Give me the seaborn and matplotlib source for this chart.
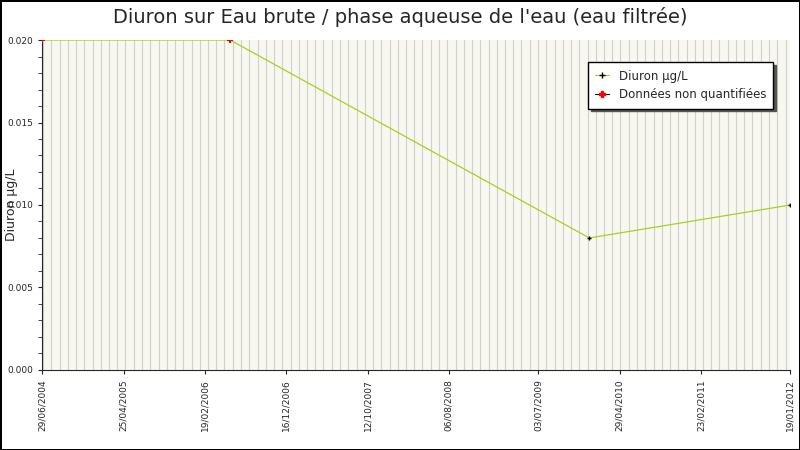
import matplotlib
matplotlib.use("Agg")
import matplotlib.pyplot as plt
import matplotlib.dates as mdates
from matplotlib.ticker import MultipleLocator
from matplotlib.lines import Line2D
import seaborn as sns
import pandas as pd

dates = ["2004-06-29", "2006-05-23", "2010-01-07", "2012-01-19"]
values = [0.020, 0.020, 0.008, 0.010]
quantified = [False, False, True, True]
tick_labels = ["29/06/2004", "25/04/2005", "19/02/2006", "16/12/2006", "12/10/2007",
               "06/08/2008", "03/07/2009", "29/04/2010", "23/02/2011", "19/01/2012"]

df = pd.DataFrame({"date": pd.to_datetime(dates), "val": values, "q": quantified})

sns.set_style("white")
plt.rcParams['font.family'] = ['DejaVu Sans']
fig = plt.figure(figsize=(8, 4.5), dpi=100)
fig.patch.set_edgecolor("black"); fig.patch.set_linewidth(2)
ax = fig.add_axes([0.053, 0.178, 0.935, 0.733])
ax.set_facecolor("#f8f8f0")

sns.lineplot(data=df, x="date", y="val", ax=ax, color="#a8d020", lw=0.9)
qd = df[df.q]; nq = df[~df.q]
ax.scatter(qd.date, qd.val, marker="+", s=10, color="black", zorder=5, lw=1)
ax.scatter(nq.date, nq.val, marker="P", s=25, color="red", zorder=5, lw=0)

ticks = pd.to_datetime(tick_labels, format="%d/%m/%Y")
ax.set_xticks(ticks)
ax.set_xticklabels(tick_labels, rotation=90, fontsize=6.5)
ax.xaxis.set_minor_locator(mdates.MonthLocator())
ax.grid(which="minor", axis="x", color="#d0d0d0", lw=0.8)
ax.set_xlim(ticks[0], ticks[-1])
ax.set_ylim(0, 0.020)
ax.yaxis.set_major_locator(MultipleLocator(0.005))
ax.yaxis.set_minor_locator(MultipleLocator(0.001))
ax.set_yticklabels([f"{v:.3f}" for v in ax.get_yticks()], fontsize=6.5)
ax.tick_params(axis="y", which="both", left=True, direction="out", length=3)
ax.tick_params(axis="x", which="major", bottom=True, length=3)
for s in ["top", "right"]:
    ax.spines[s].set_visible(False)
ax.set_xlabel("")
ax.set_ylabel("Diuron µg/L", fontsize=9)
ax.yaxis.set_label_coords(-0.033, 0.5)
fig.suptitle("Diuron sur Eau brute / phase aqueuse de l'eau (eau filtrée)", fontsize=14, y=0.985)

handles = [Line2D([], [], color="#a8d020", marker="+", mec="black", ms=4, lw=0.8),
           Line2D([], [], color="black", marker="P", mec="red", mfc="red", ms=5, lw=0.8)]
leg = ax.legend(handles, ["Diuron µg/L", "Données non quantifiées"], loc="upper right",
                bbox_to_anchor=(0.985, 0.95), fontsize=8.5, frameon=True, fancybox=False,
                shadow={"color": "#555555", "alpha": 1}, handlelength=1.2, borderpad=0.6)
leg.get_frame().set_edgecolor("black")
leg.get_frame().set_facecolor("white")

fig.savefig("out.png", dpi=100, edgecolor=fig.get_edgecolor())
